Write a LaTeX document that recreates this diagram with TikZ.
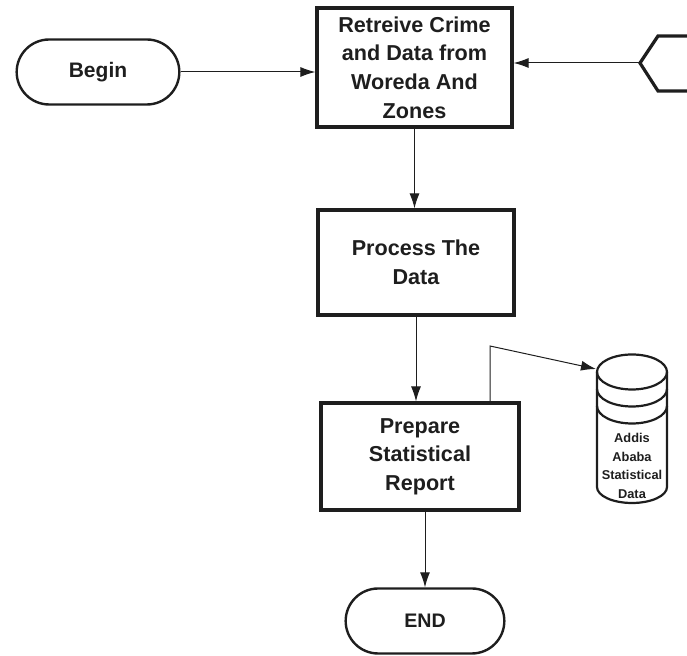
\documentclass[tikz,border=0pt]{standalone}
\usepackage{fontspec}
\setmainfont{Liberation Sans}
\usetikzlibrary{arrows.meta,shapes.misc}
\definecolor{inkc}{HTML}{1E1E1E}
\begin{document}
\begin{tikzpicture}[x=0.5pt,y=-0.5pt,
  ink/.style={draw=inkc},
  procbox/.style={ink,line width=1.6pt,align=center,font=\bfseries\fontsize{10.8}{14.3}\selectfont,text=inkc,inner sep=2pt},
  term/.style={ink,line width=1.2pt,rounded rectangle,minimum width=88pt,minimum height=32.5pt,font=\bfseries\fontsize{10.5}{12}\selectfont,text=inkc},
  conn/.style={inkc,line width=0.5pt,-{Latex[length=7.5pt,width=5pt]}},
  cyl/.style={ink,line width=1.1pt}]
\useasboundingbox (0,0) rectangle (687,656);
\clip (0,0) rectangle (687,656);
\node[term] (begin) at (98,72) {Begin};
\node[procbox,minimum width=97.5pt,minimum height=59.5pt] (retr) at (414.5,67.5) {Retreive Crime\\and Data from\\Woreda And\\Zones};
\node[procbox,minimum width=98pt,minimum height=52.5pt] (proc) at (416,262.5) {Process The\\Data};
\node[procbox,minimum width=99pt,minimum height=53.5pt] (prep) at (420,456.5) {Prepare\\Statistical\\Report};
\node[term,font=\bfseries\fontsize{9.8}{12}\selectfont,minimum width=86pt] (end) at (425,621) {END};
% hexagon (partially visible)
\coordinate (hex) at (640,63);
\draw[ink,line width=1.6pt] (700,36) -- (658,36) -- (hex) -- (658,91) -- (700,91);
% cylinder
\coordinate (cyltl) at (596,369);
\draw[cyl] (597,372) -- (597,487) arc[start angle=180,end angle=0,x radius=35,y radius=16] -- (667,372);
\draw[cyl] (632,372) ellipse[x radius=35,y radius=17.5];
\draw[cyl] (597,389) arc[start angle=180,end angle=0,x radius=35,y radius=17.5];
\draw[cyl] (597,406) arc[start angle=180,end angle=0,x radius=35,y radius=17.5];
\node[font=\bfseries\fontsize{6.4}{9.2}\selectfont,text=inkc,align=center,inner sep=0pt] (cyltext) at (632,466) {Addis\\Ababa\\Statistical\\Data};
% connectors
\draw[conn] (begin.east) -- (retr.west |- begin.east);
\draw[conn] (hex) -- (retr.east |- hex);
\draw[conn] (retr.south) -- (proc.north -| retr.south);
\draw[conn] (proc.south) -- (prep.north -| proc.south);
\draw[conn] (prep.south -| end.north) -- (end.north);
\coordinate (bend) at (490,346);
\draw[conn] (prep.north -| bend) -- (bend) -- (cyltl);
\end{tikzpicture}
\end{document}
